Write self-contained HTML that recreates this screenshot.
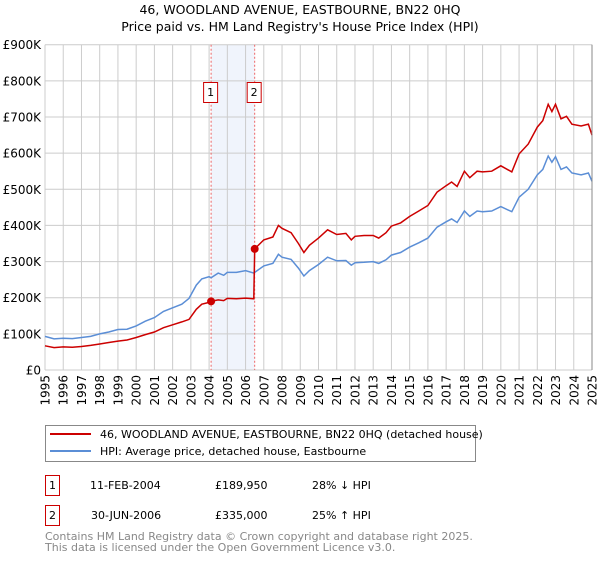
<!DOCTYPE html>
<html><head><meta charset="utf-8"><style>
body{margin:0;background:#fff;font-family:"DejaVu Sans","Liberation Sans",sans-serif;}
svg text{font-family:"DejaVu Sans","Liberation Sans",sans-serif;}
</style></head><body>
<svg id="chart" width="600" height="560" xmlns="http://www.w3.org/2000/svg">
<text x="300" y="14" text-anchor="middle" font-size="12.5">46, WOODLAND AVENUE, EASTBOURNE, BN22 0HQ</text>
<text x="300" y="31" text-anchor="middle" font-size="12.5">Price paid vs. HM Land Registry's House Price Index (HPI)</text>
<g id="grid"></g>
<g id="marks"></g>
<g id="axes"></g>
<g>
<rect x="45.5" y="425.5" width="430" height="36" fill="#fff" stroke="#888"/>
<line x1="50" y1="434" x2="91" y2="434" stroke="#cc0000" stroke-width="2"/>
<text x="100" y="438" font-size="11">46, WOODLAND AVENUE, EASTBOURNE, BN22 0HQ (detached house)</text>
<line x1="50" y1="451" x2="91" y2="451" stroke="#5b8ed6" stroke-width="2"/>
<text x="100" y="455" font-size="11">HPI: Average price, detached house, Eastbourne</text>
</g>
<g font-size="11">
<rect x="45.5" y="475.5" width="14" height="20" fill="#fff" stroke="#cc0000"/>
<text x="52.5" y="489" text-anchor="middle">1</text>
<text x="90" y="489">11-FEB-2004</text><text x="215" y="489">£189,950</text><text x="312" y="489">28% ↓ HPI</text>
<rect x="45.5" y="505.5" width="14" height="20" fill="#fff" stroke="#cc0000"/>
<text x="52.5" y="519" text-anchor="middle">2</text>
<text x="91" y="519">30-JUN-2006</text><text x="215" y="519">£335,000</text><text x="312" y="519">25% ↑ HPI</text>
</g>
<text x="45" y="540" font-size="11" fill="#888">Contains HM Land Registry data © Crown copyright and database right 2025.</text>
<text x="45" y="551" font-size="11" fill="#888">This data is licensed under the Open Government Licence v3.0.</text>
</svg>
<script>
const dates=[1995.0,1995.5,1996.0,1996.5,1997.0,1997.5,1998.0,1998.5,1999.0,1999.5,2000.0,2000.5,2001.0,2001.5,2002.0,2002.5,2002.9,2003.3,2003.6,2004.0,2004.11,2004.5,2004.8,2005.0,2005.5,2006.0,2006.45,2006.5,2007.0,2007.5,2007.8,2008.0,2008.5,2008.9,2009.2,2009.5,2010.0,2010.5,2011.0,2011.5,2011.8,2012.0,2012.5,2013.0,2013.3,2013.7,2014.0,2014.5,2015.0,2015.5,2016.0,2016.5,2017.0,2017.3,2017.6,2018.0,2018.3,2018.7,2019.0,2019.5,2020.0,2020.6,2021.0,2021.5,2022.0,2022.3,2022.6,2022.8,2023.0,2023.3,2023.6,2023.9,2024.4,2024.8,2025.0];
const hpiValues=[93,86,88,87,90,93,100,105,112,113,122,135,145,162,172,182,198,235,252,258,255,268,262,270,270,275,268,270,288,295,320,312,306,282,260,275,292,312,302,303,290,297,298,300,295,305,318,325,340,352,365,395,410,418,408,440,425,440,438,440,452,438,478,500,540,555,592,575,590,555,562,545,540,545,522];
const propertyValues=[67,62,64,63,65,68,72,76,80,83,90,98,105,117,125,133,140,168,182,187,190,194,192,198,197,199,197,335,360,368,400,392,380,350,325,345,365,388,375,378,360,370,372,372,365,380,398,407,425,440,455,492,510,520,508,550,532,550,548,550,565,548,598,625,672,690,735,715,735,695,702,680,675,680,650];
const saleDates=[2004.11,2006.5];
const salePrices=[189.95,335];
const saleLabels=["1","2"];
const yTicks=[0,100,200,300,400,500,600,700,800,900];
const yTickLabels=["£0","£100K","£200K","£300K","£400K","£500K","£600K","£700K","£800K","£900K"];
const xTicks=[1995,1996,1997,1998,1999,2000,2001,2002,2003,2004,2005,2006,2007,2008,2009,2010,2011,2012,2013,2014,2015,2016,2017,2018,2019,2020,2021,2022,2023,2024,2025];

const NS="http://www.w3.org/2000/svg";
const L=45,R=592,T=44.7,B=370;
const x=d=>L+(d-1995)/(2025-1995)*(R-L);
const y=v=>B-v/900*(B-T);
function mk(tag,attrs,parent){const e=document.createElementNS(NS,tag);for(const k in attrs)e.setAttribute(k,attrs[k]);parent.appendChild(e);return e;}
const grid=document.getElementById('grid'),marks=document.getElementById('marks'),axes=document.getElementById('axes');

const band=mk('rect',{x:x(saleDates[0]),y:T,width:x(saleDates[1])-x(saleDates[0]),height:B-T,fill:'#f0f4fc'},grid);


yTicks.forEach((v,i)=>{
  const g=mk('line',{x1:L,x2:R,y1:y(v),y2:y(v),stroke:'#cccccc','stroke-width':1},grid);
  
  
  const t=mk('text',{x:L-4,y:y(v)+4.5,'text-anchor':'end','font-size':12},axes);
  t.textContent=yTickLabels[i];
  
  
});
xTicks.forEach(d=>{
  const g=mk('line',{x1:x(d),x2:x(d),y1:T,y2:B,stroke:'#cccccc','stroke-width':1},grid);
  
  
  const t=mk('text',{x:0,y:0,'text-anchor':'end','font-size':12,transform:`translate(${x(d)+4.5},${B+5}) rotate(-90)`},axes);
  t.textContent=d;
  
  
});
const ra=mk('line',{x1:R,x2:R,y1:T,y2:B,stroke:'#888','stroke-width':1},axes);


saleDates.forEach((d,i)=>{
  const l=mk('line',{x1:x(d),x2:x(d),y1:T,y2:B,stroke:'#ee6666','stroke-width':1,'stroke-dasharray':'2,2'},grid);
  
  
  const r=mk('rect',{x:x(d)-7.5,y:82.5,width:14,height:20,fill:'#fff',stroke:'#cc0000'},axes);
  
  
  const t=mk('text',{x:x(d)-0.5,y:96,'text-anchor':'middle','font-size':11},axes);
  t.textContent=saleLabels[i];
  
  
});
const pts=(vals)=>dates.map((d,i)=>x(d).toFixed(1)+','+y(vals[i]).toFixed(1)).join(' ');
const hpi=mk('polyline',{points:pts(hpiValues),fill:'none',stroke:'#5b8ed6','stroke-width':1.5},marks);


const prop=mk('polyline',{points:pts(propertyValues),fill:'none',stroke:'#cc0000','stroke-width':1.5},marks);


saleDates.forEach((d,i)=>{
  const c=mk('circle',{cx:x(d),cy:y(salePrices[i]),r:4,fill:'#cc0000'},marks);
  
  
});
</script>
</body></html>
